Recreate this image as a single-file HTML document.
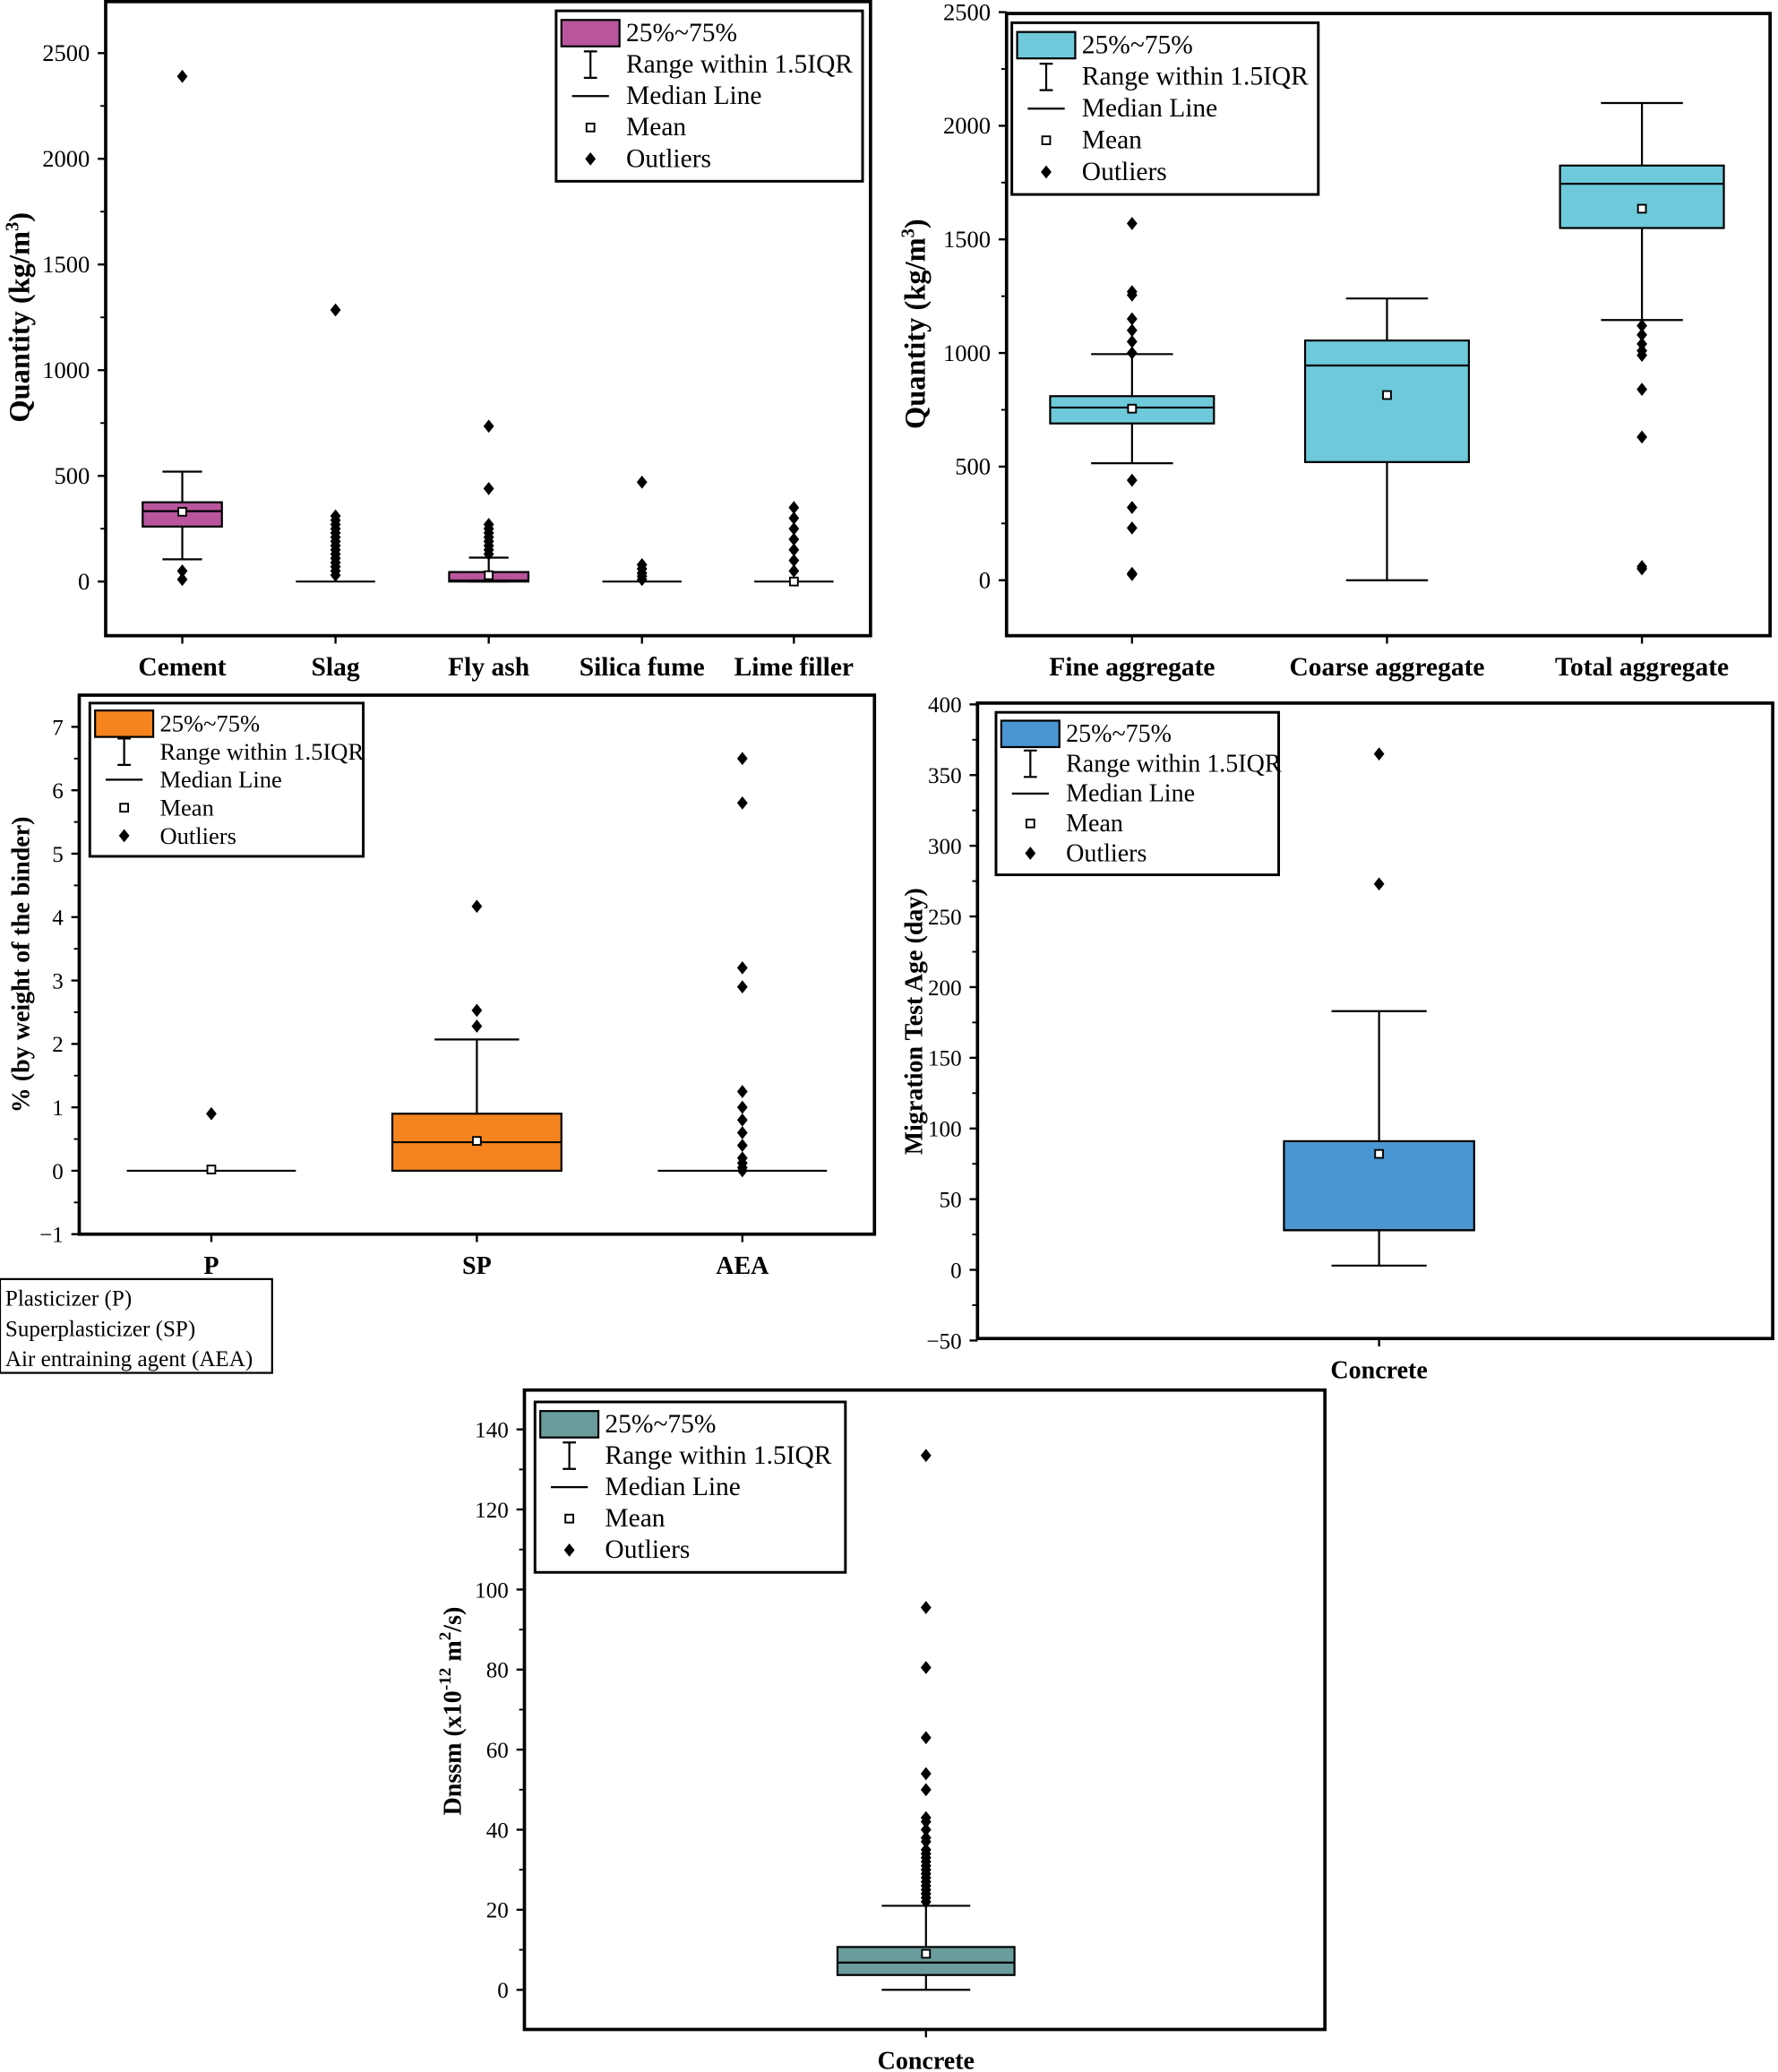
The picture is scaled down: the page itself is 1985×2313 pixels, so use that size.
<!DOCTYPE html>
<html><head><meta charset="utf-8"><style>html,body{margin:0;padding:0;background:#fff}svg{display:block}svg text{font-family:"Liberation Serif",serif}</style></head>
<body>
<svg id="s" xmlns="http://www.w3.org/2000/svg" width="1985" height="2313" viewBox="0 0 1346 1568" style="font-family:'Liberation Serif',serif"></svg>
<script>
const s=document.getElementById('s');let h='';
function dia(x,y){return `<path d="M${x} ${y-5}L${x+4} ${y}L${x} ${y+5}L${x-4} ${y}Z" fill="#000"/>`;}
function sq(x,y){return `<rect x="${x-3}" y="${y-3}" width="6" height="6" fill="#fff" stroke="#000" stroke-width="1.3"/>`;}
function panel(c){
 const Y=v=>c.y0+(v)*c.k;
 h+=`<rect x="${c.x1}" y="${c.t}" width="${c.x2-c.x1}" height="${c.b-c.t}" fill="none" stroke="#000" stroke-width="2.5"/>`;
 for(let v=c.min;v<=c.max+1e-9;v+=c.step){const y=Y(v);h+=`<line x1="${c.x1-6}" x2="${c.x1}" y1="${y}" y2="${y}" stroke="#000" stroke-width="1.6"/>`;
  h+=`<text x="${c.x1-12}" y="${y+6}" font-size="${c.fs}" text-anchor="end">${v<0?'−'+(-v):v}</text>`;
  const ym=Y(v+c.step/2);if(v+c.step/2<=c.max+c.step*0.6&&ym>c.t)h+=`<line x1="${c.x1-4}" x2="${c.x1}" y1="${ym}" y2="${ym}" stroke="#000" stroke-width="1.3"/>`;}
 h+=`<text transform="translate(${c.lx},${c.ly}) rotate(-90)" font-size="${c.lfs}" font-weight="bold" text-anchor="middle">${c.label}</text>`;
 c.cats.forEach(d=>{
  h+=`<line x1="${d.x}" x2="${d.x}" y1="${c.b}" y2="${c.b+6}" stroke="#000" stroke-width="1.6"/>`;
  h+=`<text x="${d.x}" y="${c.b+30}" font-size="${c.cfs}" font-weight="bold" text-anchor="middle">${d.n}</text>`;
  const w=c.bw/2;
  if(d.wt!=null){h+=`<line x1="${d.x}" x2="${d.x}" y1="${Y(d.wt)}" y2="${Y(d.wb)}" stroke="#000" stroke-width="1.5"/>`;
   h+=`<line x1="${d.x-w/2}" x2="${d.x+w/2}" y1="${Y(d.wt)}" y2="${Y(d.wt)}" stroke="#000" stroke-width="1.5"/>`;
   h+=`<line x1="${d.x-w/2}" x2="${d.x+w/2}" y1="${Y(d.wb)}" y2="${Y(d.wb)}" stroke="#000" stroke-width="1.5"/>`;}
  if(d.q3!=null&&d.q3>d.q1)h+=`<rect x="${d.x-w}" y="${Y(d.q3)}" width="${2*w}" height="${Y(d.q1)-Y(d.q3)}" fill="${c.col}" stroke="#000" stroke-width="1.5"/>`;
  h+=`<line x1="${d.x-w}" x2="${d.x+w}" y1="${Y(d.med)}" y2="${Y(d.med)}" stroke="#000" stroke-width="1.5"/>`;
  (d.o||[]).forEach(v=>h+=dia(d.x,Y(v)));
  if(d.mean!=null)h+=sq(d.x,Y(d.mean));
 });
 const L=c.leg,dy=(L.h-10)/5,fs=L.fs;
 h+=`<rect x="${L.x}" y="${L.y}" width="${L.w}" height="${L.h}" fill="#fff" stroke="#000" stroke-width="2"/>`;
 const ix=L.x+26,tx=L.x+53;
 for(let i=0;i<5;i++){const cy=L.y+5+dy*(i+0.5);
  if(i==0)h+=`<rect x="${L.x+4}" y="${cy-10}" width="44" height="20" fill="${c.col}" stroke="#000" stroke-width="1.5"/>`;
  if(i==1)h+=`<path d="M${ix-5} ${cy-10}H${ix+5}M${ix} ${cy-10}V${cy+10}M${ix-5} ${cy+10}H${ix+5}" stroke="#000" stroke-width="1.5"/>`;
  if(i==2)h+=`<line x1="${ix-14}" x2="${ix+14}" y1="${cy}" y2="${cy}" stroke="#000" stroke-width="1.5"/>`;
  if(i==3)h+=sq(ix,cy);
  if(i==4)h+=dia(ix,cy);
  h+=`<text x="${tx}" y="${cy+6}" font-size="${fs}">${['25%~75%','Range within 1.5IQR','Median Line','Mean','Outliers'][i]}</text>`;}
}
panel({x1:80,x2:659,t:1,b:481,y0:440,k:-0.16,min:0,max:2500,step:500,fs:18,lfs:22,lx:22,ly:240,cfs:20,bw:60,col:'#b9559c',
 label:'Quantity (kg/m<tspan dy="-8" font-size="14">3</tspan><tspan dy="8">)</tspan>',
 leg:{x:421,y:8,w:232,h:129,fs:20},
 cats:[{x:138,n:'Cement',q1:260,q3:375,med:333,wt:520,wb:105,mean:330,o:[2390,50,10]},
 {x:254,n:'Slag',med:0,o:[1285,310,290,270,250,230,210,190,170,150,130,110,90,70,50,30]},
 {x:370,n:'Fly ash',q1:0,q3:45,med:5,wt:113,wb:0,mean:30,o:[735,440,270,250,230,210,190,170,150,130]},
 {x:486,n:'Silica fume',med:0,o:[470,80,60,40,25,10]},
 {x:601,n:'Lime filler',med:0,mean:0,o:[350,300,250,200,150,100,50]}]});
panel({x1:762,x2:1340,t:10,b:481,y0:439,k:-0.172,min:0,max:2500,step:500,fs:18,lfs:22,lx:700,ly:245,cfs:20,bw:124,col:'#6ecadb',
 label:'Quantity (kg/m<tspan dy="-8" font-size="14">3</tspan><tspan dy="8">)</tspan>',
 leg:{x:766,y:17,w:232,h:130,fs:20},
 cats:[{x:857,n:'Fine aggregate',q1:690,q3:810,med:760,wt:995,wb:515,mean:755,o:[1570,1270,1255,1150,1100,1050,1000,440,320,230,30,25]},
 {x:1050,n:'Coarse aggregate',q1:520,q3:1055,med:945,wt:1240,wb:0,mean:815},
 {x:1243,n:'Total aggregate',q1:1550,q3:1825,med:1745,wt:2100,wb:1145,mean:1635,o:[1120,1080,1040,1010,990,840,630,60,50]}]});
panel({x1:60,x2:662,t:526,b:934,y0:886,k:-48,min:-1,max:7,step:1,fs:17,lfs:19,lx:22,ly:730,cfs:19,bw:128,col:'#f5841f',
 label:'% (by weight of the binder)',
 leg:{x:68,y:532,w:207,h:116,fs:18},
 cats:[{x:160,n:'P',med:0,mean:0.02,o:[0.9]},
 {x:361,n:'SP',q1:0,q3:0.9,med:0.45,wt:2.07,wb:0,mean:0.47,o:[2.28,2.53,4.17]},
 {x:562,n:'AEA',med:0,o:[6.5,5.8,3.2,2.9,1.25,1.0,0.8,0.6,0.4,0.2,0.12,0.05,0]}]});
h+=`<rect x="0" y="968" width="206" height="71" fill="#fff" stroke="#000" stroke-width="1.5"/>`;
h+=`<text x="4" y="988" font-size="17">Plasticizer (P)</text><text x="4" y="1011" font-size="17">Superplasticizer (SP)</text><text x="4" y="1034" font-size="17">Air entraining agent (AEA)</text>`;
panel({x1:740,x2:1342,t:532,b:1013,y0:961,k:-1.07,min:-50,max:400,step:50,fs:17,lfs:19,lx:698,ly:773,cfs:19,bw:144,col:'#4a96d2',
 label:'Migration Test Age (day)',
 leg:{x:754,y:539,w:214,h:123,fs:19},
 cats:[{x:1044,n:'Concrete',q1:28,q3:91,med:28,wt:183,wb:3,mean:82,o:[365,273]}]});
panel({x1:397,x2:1003,t:1052,b:1536,y0:1506,k:-3.03,min:0,max:140,step:20,fs:17,lfs:19,lx:349,ly:1295,cfs:19,bw:134,col:'#6b9c9c',
 label:'Dnssm (x10<tspan dy="-8" font-size="13">-12</tspan><tspan dy="8"> m</tspan><tspan dy="-8" font-size="13">2</tspan><tspan dy="8">/s)</tspan>',
 leg:{x:405,y:1061,w:235,h:129,fs:20},
 cats:[{x:701,n:'Concrete',q1:3.7,q3:10.7,med:6.8,wt:21,wb:0,mean:9,o:[133.5,95.5,80.5,63,54,50,43,42,40,38,37,35,34,33,32,31,30,29,28,27,26,25,24,23,22]}]});
s.innerHTML=h;
</script>
</body></html>
